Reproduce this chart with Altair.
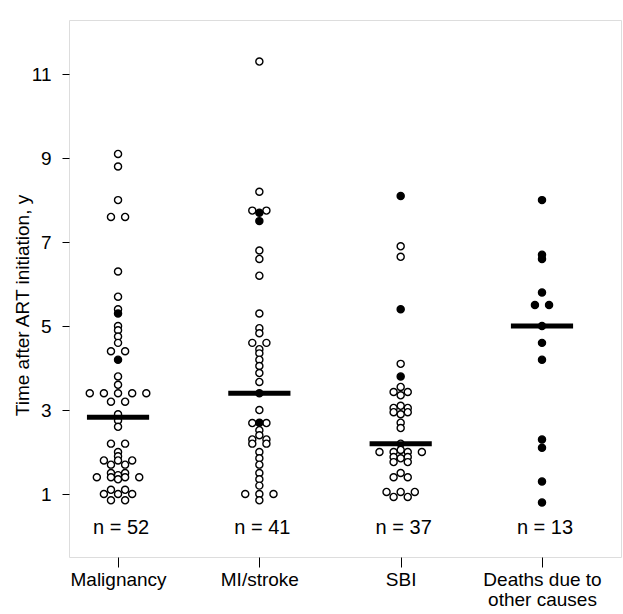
import json
import altair as alt
import pandas as pd

# ---- data ----
categories = ["Malignancy", "MI/stroke", "SBI", "Deaths due to other causes"]
category_lines = [["Malignancy"], ["MI/stroke"], ["SBI"], ["Deaths due to", "other causes"]]
n_values = [52, 41, 37, 13]
median_values = [2.83, 3.4, 2.2, 5.0]

malignancy_open = [9.1, 8.8, 8.0, 7.6, 7.6, 6.3, 5.7, 5.4, 5.0, 4.9, 4.75, 4.6,
                   4.4, 4.4, 3.8, 3.6, 3.4, 3.4, 3.4, 3.4, 3.4, 3.2, 3.2,
                   2.9, 2.75, 2.6, 2.2, 2.2, 2.0, 1.9, 1.8, 1.8, 1.8, 1.7, 1.7,
                   1.5, 1.5, 1.45, 1.4, 1.4, 1.4, 1.4, 1.35,
                   1.1, 1.1, 1.0, 1.0, 1.0, 0.85, 0.85]
malignancy_filled = [5.3, 4.2]

mi_open = [11.3, 8.2, 7.75, 7.75, 6.8, 6.6, 6.2, 5.3, 4.95, 4.83, 4.6, 4.6,
           4.45, 4.35, 4.2, 4.05, 3.88, 3.67, 3.0, 2.69, 2.69, 2.52, 2.4,
           2.3, 2.3, 2.2, 2.2, 2.0, 1.85, 1.7, 1.5, 1.35, 1.2,
           1.0, 1.0, 1.0, 0.85]
mi_filled = [7.7, 7.5, 3.4, 2.7]

sbi_open = [6.9, 6.65, 4.1, 3.55, 3.43, 3.43, 3.35, 3.1, 3.05, 3.05, 2.95, 2.95, 2.9,
            2.7, 2.57, 2.2, 2.05, 2.0, 2.0, 2.0, 2.0, 1.88, 1.88, 1.85, 1.76, 1.76,
            1.5, 1.4, 1.4, 1.05, 1.05, 1.05, 0.93, 0.93]
sbi_filled = [8.1, 5.4, 3.8]

deaths_open = []
deaths_filled = [8.0, 6.7, 6.6, 5.8, 5.5, 5.5, 5.0, 4.6, 4.2, 2.3, 2.1, 1.3, 0.8]

open_sets = [malignancy_open, mi_open, sbi_open, deaths_open]
filled_sets = [malignancy_filled, mi_filled, sbi_filled, deaths_filled]

# ---- dot-plot layout: equal values are spread side by side ----
SPACING = 0.1
rows = []
for idx, (op, fi) in enumerate(zip(open_sets, filled_sets)):
    groups = {}
    for v in op:
        groups.setdefault(round(v, 3), []).append("open")
    for v in fi:
        groups.setdefault(round(v, 3), []).append("filled")
    for v, kinds in groups.items():
        k = len(kinds)
        for i, kind in enumerate(kinds):
            rows.append({"pos": idx + (i - (k - 1) / 2) * SPACING, "time": v,
                         "kind": kind, "cat": categories[idx]})
df = pd.DataFrame(rows)

HALF = 0.22
med_df = pd.DataFrame({"cat": categories, "idx": list(range(4)),
                       "lo": [i - HALF for i in range(4)],
                       "hi": [i + HALF for i in range(4)],
                       "median": median_values})
n_df = pd.DataFrame({"idx": list(range(4)),
                     "label": [f"n = {n}" for n in n_values],
                     "ypos": [0.19] * 4})

FONT = "Liberation Sans"
x_scale = alt.Scale(domain=[-0.347, 3.559], nice=False, zero=False)
y_scale = alt.Scale(domain=[-0.5, 12.29], nice=False, zero=False)

label_expr = json.dumps(category_lines) + "[datum.value]"

x_axis = alt.Axis(values=[0, 1, 2, 3], labelExpr=label_expr, title=None,
                  tickSize=10, tickColor="black", labelColor="black",
                  labelFontSize=19, labelFont=FONT, labelPadding=3,
                  labelLineHeight=20, domain=False, grid=False, labelAngle=0)
y_axis = alt.Axis(values=[1, 3, 5, 7, 9, 11], title="Time after ART initiation, y",
                  tickSize=7, tickColor="black", labelColor="black",
                  labelFontSize=19, labelFont=FONT, labelPadding=11,
                  titleFont=FONT, titleFontSize=19, titleFontWeight="normal",
                  titleColor="black", titleX=-47, titleY=285,
                  titleAlign="center", titleBaseline="middle", titleAngle=-90,
                  domain=False, grid=False)

points = alt.Chart(df).mark_circle(size=50, strokeWidth=1.4, opacity=1,
                                   stroke="black").encode(
    x=alt.X("pos:Q", scale=x_scale, axis=x_axis),
    y=alt.Y("time:Q", scale=y_scale, axis=y_axis),
    fill=alt.Fill("kind:N", scale=alt.Scale(domain=["open", "filled"],
                                             range=["white", "black"]), legend=None),
)

medians = alt.Chart(med_df).mark_rule(strokeWidth=5, color="black").encode(
    x=alt.X("lo:Q", scale=x_scale),
    x2="hi:Q",
    y=alt.Y("median:Q", scale=y_scale),
)

ntext = alt.Chart(n_df).mark_text(fontSize=20, font=FONT, color="black", dx=3,
                                  baseline="middle").encode(
    x=alt.X("idx:Q", scale=x_scale),
    y=alt.Y("ypos:Q", scale=y_scale),
    text="label:N",
)

chart = alt.layer(points, medians, ntext).properties(
    width=552, height=537,
    autosize=alt.AutoSizeParams(type="none"),
    padding={"left": 69, "top": 20, "right": 2, "bottom": 57},
).configure_view(stroke="black", strokeWidth=1).configure(background="white")

chart.save("out.html", embed_options={"renderer": "svg", "actions": False})
